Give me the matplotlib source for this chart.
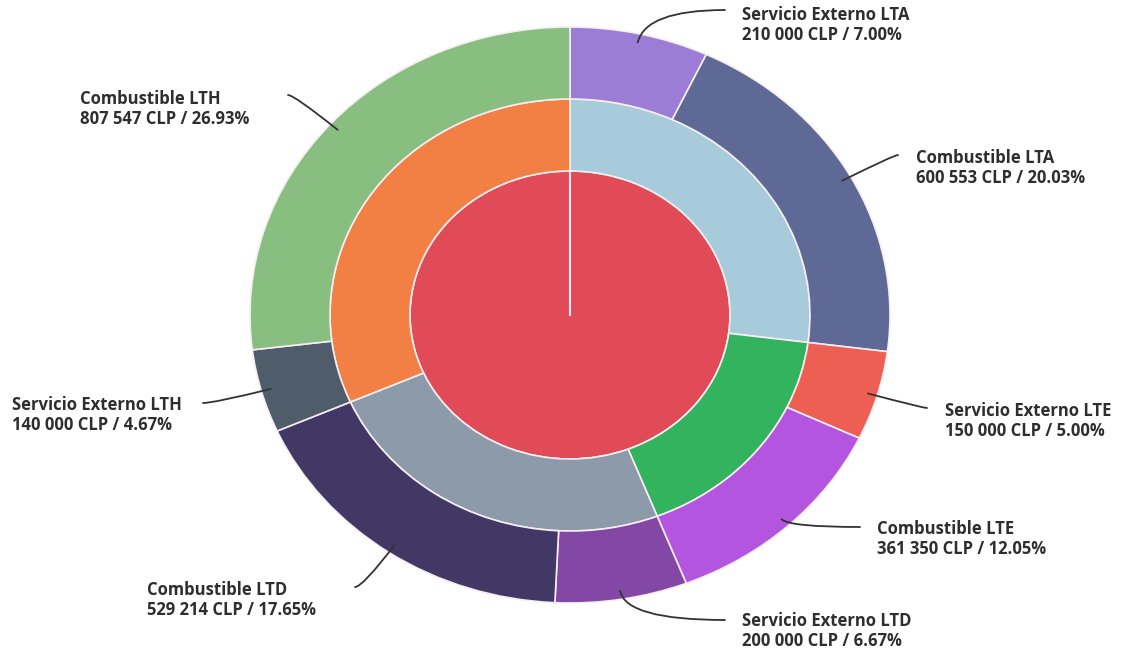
import numpy as np
import matplotlib
matplotlib.use("Agg")
import matplotlib.pyplot as plt

# Datos del gráfico
grupos = ["LTA", "LTE", "LTD", "LTH"]
conceptos = ["Servicio Externo", "Combustible"]
servicio_externo = [210000, 150000, 200000, 140000]
combustible = [600553, 361350, 529214, 807547]

colores_centro = "#E14B57"
colores_grupo = ["#A8CBDB", "#34B35F", "#8D9AA9", "#F27F44"]
colores_externo = ["#9B7DD5", "#5E6A95", "#EE5F53", "#B455E0",
                   "#8347A6", "#423865", "#4F5C69", "#88BE80"]

# Posicion de las etiquetas en pixeles (texto, final de la linea)
pos_texto = [(742, 25), (916, 168), (945, 421), (877, 539),
             (742, 631), (147, 600), (12, 415), (80, 109)]
pos_linea = [(725, 10), (898, 155), (927, 408), (860, 527),
             (725, 620), (355, 587), (203, 403), (288, 95)]

W, H = 1131, 653
CX, CY = 570, 315
RX, RY = 320, 288
BORDE = "#F6EEF2"


def px2data(px, py):
    return (px - CX) / RX, (CY - py) / RY


# Anillo exterior: servicio externo y combustible de cada grupo
valores = []
nombres = []
for g, s, c in zip(grupos, servicio_externo, combustible):
    valores += [s, c]
    nombres += [f"Servicio Externo {g}", f"Combustible {g}"]
valores = np.array(valores)
total = valores.sum()
por_grupo = np.array(servicio_externo) + np.array(combustible)

fig = plt.figure(figsize=(W / 100, H / 100), dpi=100)
ax = fig.add_axes([0, 0, 1, 1])

kw = dict(startangle=90, counterclock=False)
ax.pie([total], radius=0.5, colors=[colores_centro],
       wedgeprops=dict(edgecolor=BORDE, linewidth=1.2), **kw)
# borde radial del sector unico del centro
ax.plot([0, 0], [0, 0.5], color=BORDE, lw=1.5, zorder=5)
ax.pie(por_grupo, radius=0.75, colors=colores_grupo,
       wedgeprops=dict(width=0.25, edgecolor=BORDE, linewidth=1.2), **kw)
ax.pie(valores, radius=1.0, colors=colores_externo,
       wedgeprops=dict(width=0.25, edgecolor=BORDE, linewidth=1.2), **kw)

ax.set_aspect("auto")
ax.set_xlim(-CX / RX, (W - CX) / RX)
ax.set_ylim((CY - H) / RY, CY / RY)
ax.axis("off")

# Etiquetas con linea guia
acum = np.cumsum(valores) - valores / 2
for i, v in enumerate(valores):
    theta = np.deg2rad(acum[i] / total * 360)
    r = 0.97
    xa, ya = r * np.sin(theta), r * np.cos(theta)
    ang = np.degrees(np.arctan2(RY * np.cos(theta), RX * np.sin(theta)))
    xl, yl = px2data(*pos_linea[i])
    ax.annotate("", xy=(xa, ya), xytext=(xl, yl),
                arrowprops=dict(arrowstyle="-", color="#333333", lw=1.3,
                                shrinkA=0, shrinkB=0,
                                connectionstyle=f"angle3,angleA=0,angleB={ang:.1f}"))
    monto = f"{v:,}".replace(",", " ")
    texto = f"{nombres[i]}\n{monto} CLP / {v / total * 100:.2f}%"
    xt, yt = px2data(*pos_texto[i])
    ax.text(xt, yt, texto, ha="left", va="center", fontsize=12,
            fontfamily="Open Sans", fontweight="bold", color="#2E2E2E",
            linespacing=1.1)

fig.savefig("out.png", dpi=100)
